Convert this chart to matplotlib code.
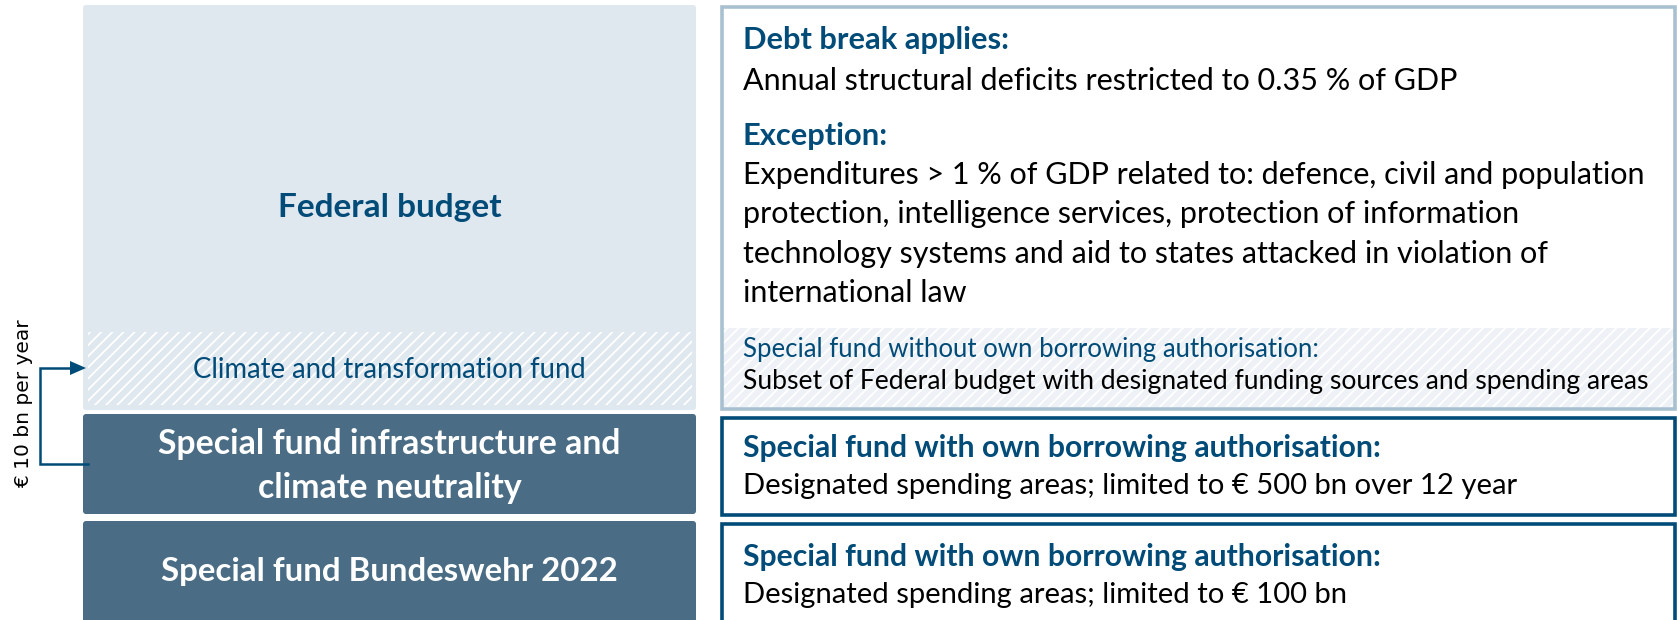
import matplotlib
matplotlib.use('Agg')
import matplotlib.pyplot as plt
from matplotlib.patches import Rectangle, FancyBboxPatch, Polygon

# text content of the diagram
left_labels = ["Federal budget",
               "Climate and transformation fund",
               "Special fund infrastructure and\nclimate neutrality",
               "Special fund Bundeswehr 2022"]
budget_heads = ["Debt break applies:", "Exception:"]
budget_bodies = ["Annual structural deficits restricted to 0.35 % of GDP",
                 "Expenditures > 1 % of GDP related to: defence, civil and population\n"
                 "protection, intelligence services, protection of information\n"
                 "technology systems and aid to states attacked in violation of\n"
                 "international law"]
ktf_head = "Special fund without own borrowing authorisation:"
ktf_body = "Subset of Federal budget with designated funding sources and spending areas"
fund_head = "Special fund with own borrowing authorisation:"
fund_bodies = ["Designated spending areas; limited to € 500 bn over 12 year",
               "Designated spending areas; limited to € 100 bn"]
transfer_label = "€ 10 bn per year"

BLUE = '#004b78'
DARK = '#4a6d85'
LIGHT = '#dfe7ef'
OUTLINE = '#a9c0d0'
FONT = 'Lato'

W, H = 1677, 620
fig = plt.figure(figsize=(W / 100, H / 100), dpi=100)
ax = fig.add_axes([0, 0, 1, 1])
ax.set_xlim(0, W)
ax.set_ylim(H, 0)
ax.axis('off')


def box(x0, y0, x1, y1, color):
    ax.add_patch(FancyBboxPatch((x0, y0), x1 - x0, y1 - y0,
                                boxstyle='round,pad=0,rounding_size=3',
                                facecolor=color, edgecolor='none'))


def hatched(x0, y0, x1, y1, bg):
    ax.add_patch(Rectangle((x0, y0), x1 - x0, y1 - y0, facecolor=bg,
                           edgecolor='white', hatch='///', linewidth=0))


plt.rcParams['hatch.linewidth'] = 1.3

# left column
lx0, lx1 = 83, 696
box(lx0, 5, lx1, 410, LIGHT)
hatched(88, 332, 692, 405, LIGHT)
box(lx0, 414, lx1, 514, DARK)
box(lx0, 521, lx1, 640, DARK)
lc = (lx0 + lx1) / 2
ax.text(lc, 207, left_labels[0], ha='center', va='center', color=BLUE,
        fontsize=24, fontweight='bold', family=FONT)
ax.text(lc, 370, left_labels[1], ha='center', va='center', color=BLUE,
        fontsize=19.8, family=FONT)
ax.text(lc, 466, left_labels[2], ha='center', va='center', color='white',
        fontsize=24.3, fontweight='bold', family=FONT, linespacing=1.44)
ax.text(lc, 572, left_labels[3], ha='center', va='center', color='white',
        fontsize=23.8, fontweight='bold', family=FONT)

# right column
rx0, rx1 = 722, 1675
hatched(rx0, 328, rx1, 407, '#eef2f6')
ax.add_patch(Rectangle((rx0, 6.5), rx1 - rx0, 402, facecolor='none',
                       edgecolor=OUTLINE, linewidth=2.6))
ax.add_patch(Rectangle((rx0, 417.5), rx1 - rx0, 97, facecolor='white',
                       edgecolor=BLUE, linewidth=2.6))
ax.add_patch(Rectangle((rx0, 523.5), rx1 - rx0, 120, facecolor='white',
                       edgecolor=BLUE, linewidth=2.6))

tx = 743
ax.text(tx, 40, budget_heads[0], va='center', color=BLUE, fontsize=22.2,
        fontweight='bold', family=FONT)
ax.text(tx, 81, budget_bodies[0], va='center', color='black', fontsize=22,
        family=FONT)
ax.text(tx, 136, budget_heads[1], va='center', color=BLUE, fontsize=22.2,
        fontweight='bold', family=FONT)
ax.text(tx, 234, budget_bodies[1], va='center', color='black', fontsize=22,
        family=FONT, linespacing=1.49)
ax.text(tx, 349, ktf_head, va='center', color=BLUE, fontsize=18.5,
        family=FONT)
ax.text(tx, 382, ktf_body, va='center', color='black', fontsize=19.1,
        family=FONT)
for yh, body in zip([448, 557], fund_bodies):
    ax.text(tx, yh, fund_head, va='center', color=BLUE, fontsize=21.7,
            fontweight='bold', family=FONT)
    ax.text(tx, yh + 38, body, va='center', color='black', fontsize=21.1,
            family=FONT)

# transfer bracket from infrastructure fund to climate fund
ax.plot([88, 40, 40, 72], [464, 464, 368, 368], color=BLUE, lw=1.8,
        solid_joinstyle='miter')
ax.add_patch(Polygon([[70, 361], [86, 368], [70, 375]], closed=True,
                     facecolor=BLUE, edgecolor='none'))
ax.text(24, 404, transfer_label, rotation=90, ha='center', va='center',
        color='black', fontsize=14.5, family='DejaVu Sans')

plt.savefig('out.png', dpi=100)
